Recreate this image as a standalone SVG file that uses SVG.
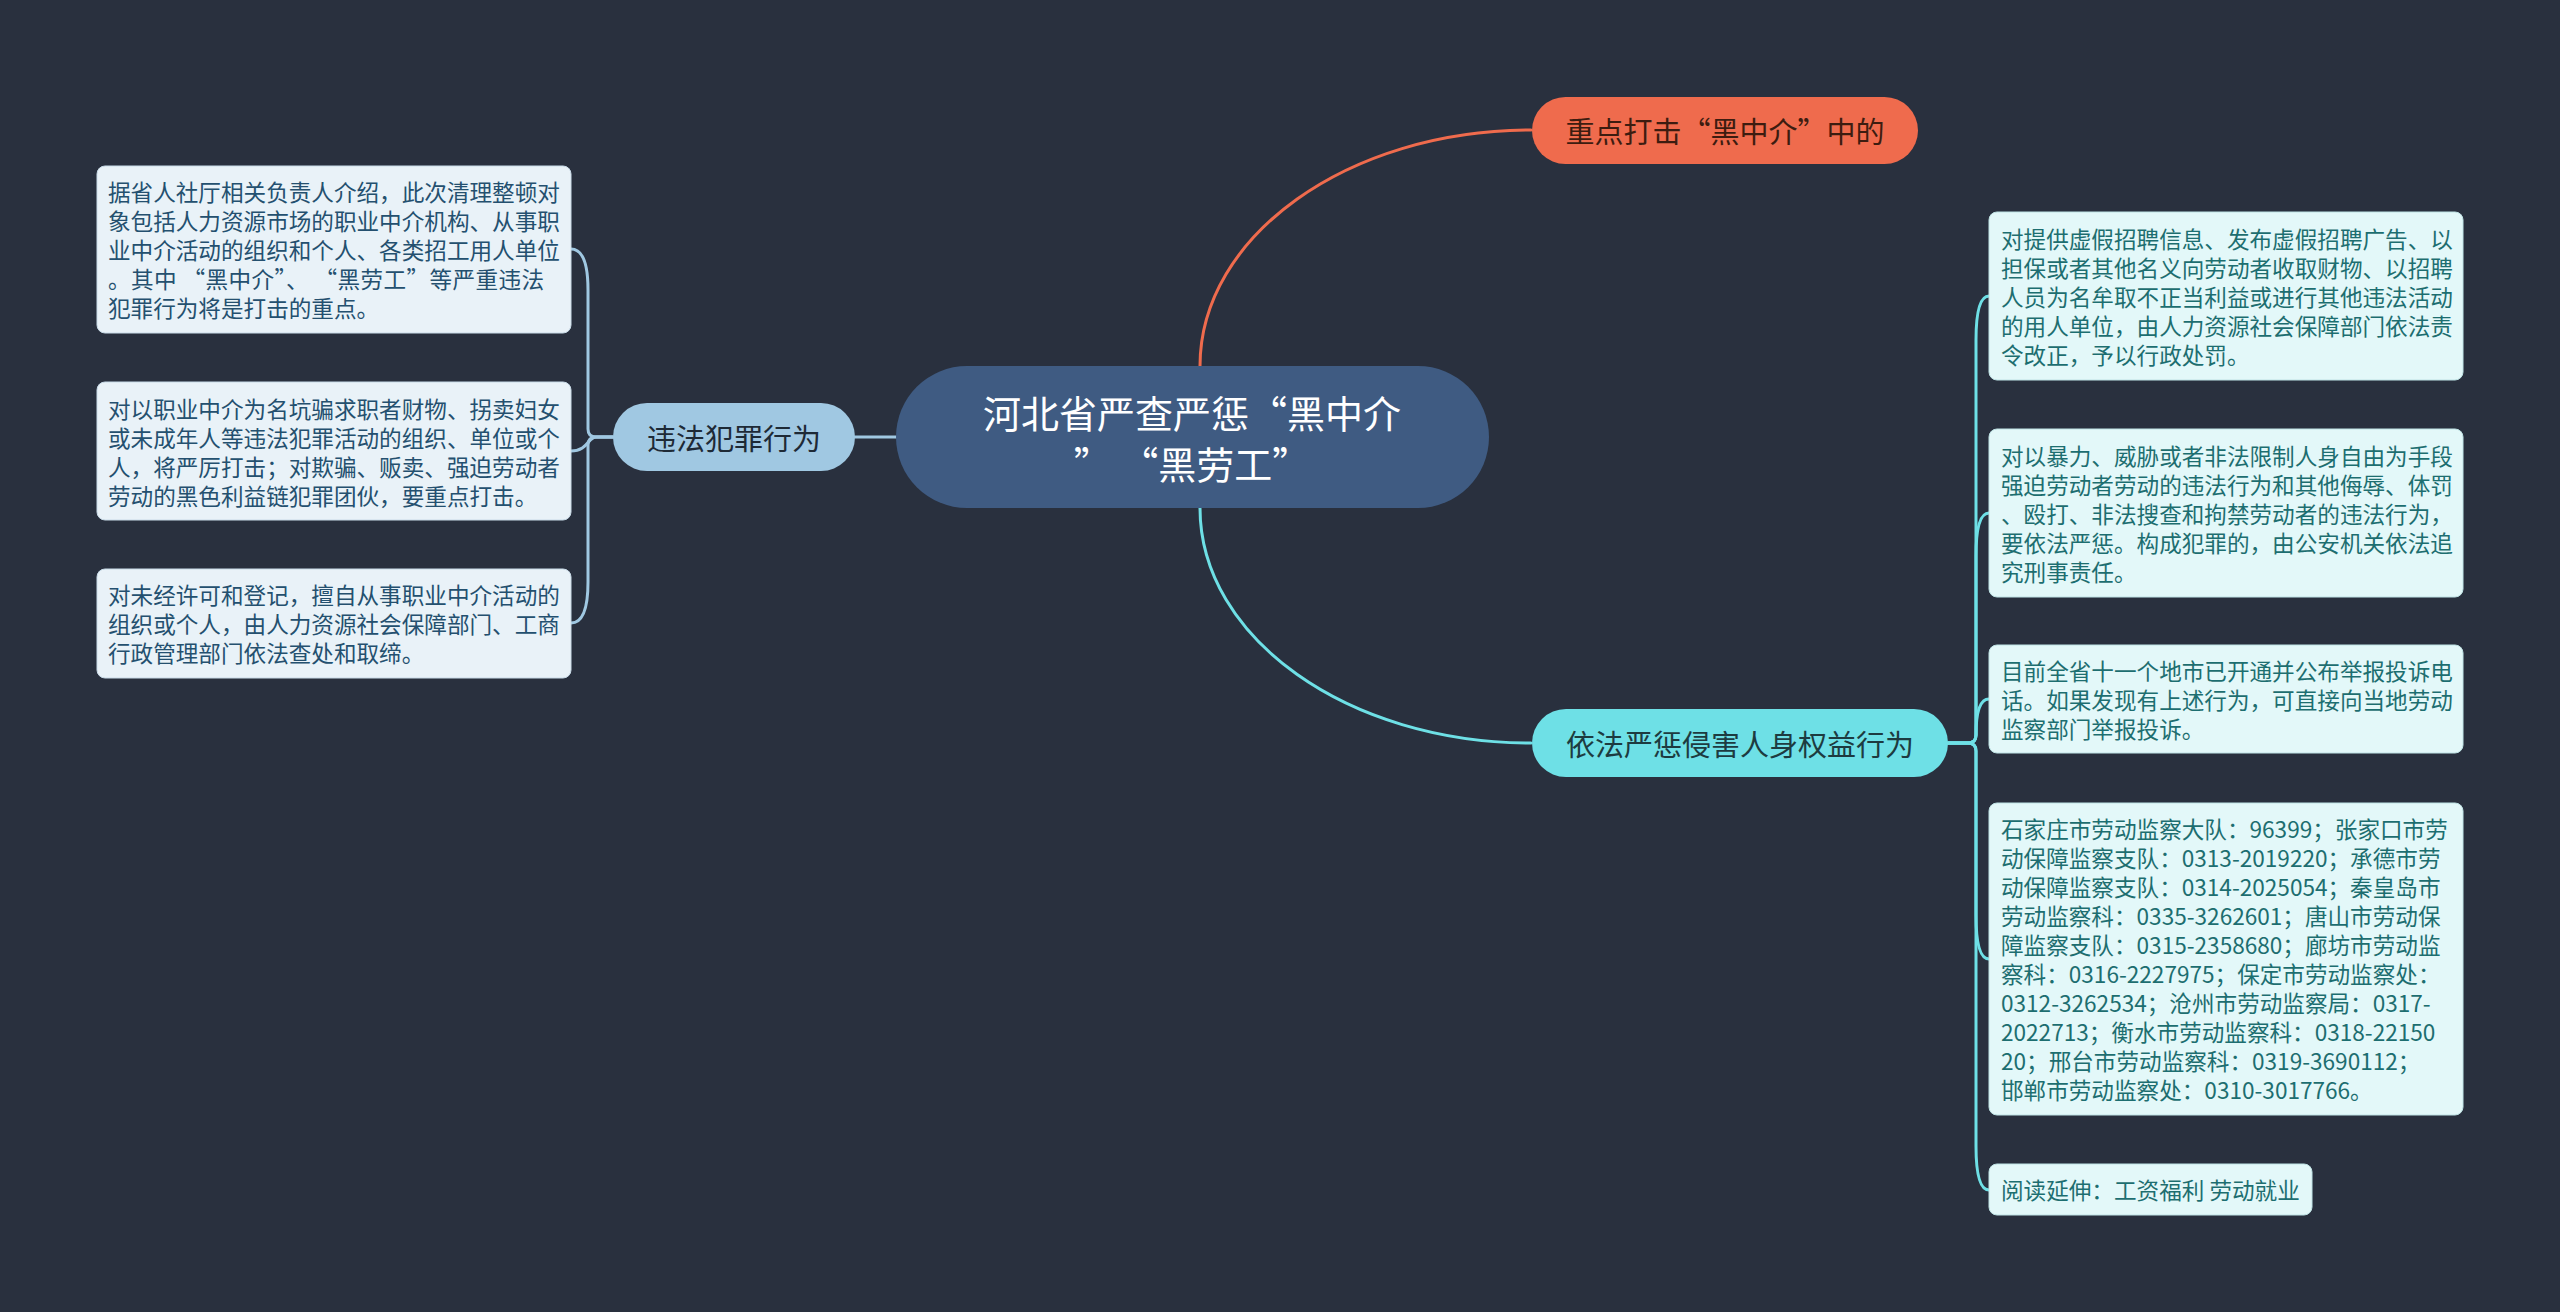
<svg xmlns="http://www.w3.org/2000/svg" width="2560" height="1312" viewBox="0 0 2560 1312">
<style>
text{font-family:"Noto Sans CJK SC","Noto Sans",sans-serif;dominant-baseline:central}
.lt{font-size:22.6px;fill:#24506f}
.rt{font-size:22.6px;fill:#1d6e70}
.lbox{fill:#e9f2f8;stroke:#c9dbe8;stroke-width:1}
.rbox{fill:#e3f8f9;stroke:#bfe3e5;stroke-width:1}
.conn{fill:none;stroke-width:3;stroke-linecap:round}
.mt{font-size:29px;text-anchor:middle}
</style>
<rect width="2560" height="1312" fill="#29303e"/>
<g id="connectors">
<path class="conn" stroke="#ef6b4d" d="M1200,366 C1200,236 1348,130 1531,130"/>
<path class="conn" stroke="#6ee0e6" d="M1200,508 C1200,638 1348,743 1531,743"/>
<path class="conn" stroke="#a0c8e2" d="M896,437 H855"/>
<path class="conn" stroke="#a0c8e2" d="M613,437 H596 Q588,437 588,429 V290 Q588,249 571,249"/>
<path class="conn" stroke="#a0c8e2" d="M613,437 H596 C588,437 588,451 571,451"/>
<path class="conn" stroke="#a0c8e2" d="M613,437 H596 Q588,437 588,445 V582 Q588,623 571,623"/>
<path class="conn" stroke="#6ee0e6" d="M1948,743 H1968 Q1976,743 1976,735 V340 Q1976,296 1989,296"/>
<path class="conn" stroke="#6ee0e6" d="M1948,743 H1968 Q1976,743 1976,735 V556 Q1976,513 1989,513"/>
<path class="conn" stroke="#6ee0e6" d="M1948,743 H1968 Q1976,743 1976,735 Q1976,699 1989,699"/>
<path class="conn" stroke="#6ee0e6" d="M1948,743 H1968 Q1976,743 1976,751 V915 Q1976,959 1989,959"/>
<path class="conn" stroke="#6ee0e6" d="M1948,743 H1968 Q1976,743 1976,751 V1146 Q1976,1190 1989,1190"/>
</g>
<g id="root">
<rect x="896" y="366" width="593" height="142" rx="71" fill="#3f5b82"/>
<text x="1192" y="411" font-size="38" text-anchor="middle" fill="#ffffff">河北省严查严惩“黑中介</text>
<text x="1192" y="462" font-size="38" text-anchor="middle" fill="#ffffff">” “黑劳工”</text>
</g>
<g id="n-key">
<rect x="1532" y="97" width="386" height="67" rx="33.5" fill="#ef6b4d"/>
<text class="mt" x="1725" y="130" fill="#3d1c10">重点打击“黑中介”中的</text>
</g>
<g id="n-protect">
<rect x="1532" y="709" width="416" height="68" rx="34" fill="#6ee0e6"/>
<text class="mt" x="1740" y="743" fill="#1d3b40">依法严惩侵害人身权益行为</text>
</g>
<g id="n-crime">
<rect x="613" y="403" width="242" height="68" rx="34" fill="#a0c8e2"/>
<text class="mt" x="734" y="437" fill="#1e2a36">违法犯罪行为</text>
</g>
<g id="l1">
<rect class="lbox" x="97" y="166" width="474" height="167" rx="8"/>
<text class="lt" x="108" y="191.5">据省人社厅相关负责人介绍，此次清理整顿对</text>
<text class="lt" x="108" y="220.5">象包括人力资源市场的职业中介机构、从事职</text>
<text class="lt" x="108" y="249.5">业中介活动的组织和个人、各类招工用人单位</text>
<text class="lt" x="108" y="278.5" textLength="436" lengthAdjust="spacing">。其中 “黑中介”、 “黑劳工”等严重违法</text>
<text class="lt" x="108" y="307.5">犯罪行为将是打击的重点。</text>
</g>
<g id="l2">
<rect class="lbox" x="97" y="382" width="474" height="138" rx="8"/>
<text class="lt" x="108" y="408">对以职业中介为名坑骗求职者财物、拐卖妇女</text>
<text class="lt" x="108" y="437">或未成年人等违法犯罪活动的组织、单位或个</text>
<text class="lt" x="108" y="466">人，将严厉打击；对欺骗、贩卖、强迫劳动者</text>
<text class="lt" x="108" y="495">劳动的黑色利益链犯罪团伙，要重点打击。</text>
</g>
<g id="l3">
<rect class="lbox" x="97" y="569" width="474" height="109" rx="8"/>
<text class="lt" x="108" y="594.5">对未经许可和登记，擅自从事职业中介活动的</text>
<text class="lt" x="108" y="623.5">组织或个人，由人力资源社会保障部门、工商</text>
<text class="lt" x="108" y="652.5">行政管理部门依法查处和取缔。</text>
</g>
<g id="r1">
<rect class="rbox" x="1989" y="212" width="474" height="168" rx="8"/>
<text class="rt" x="2001" y="238">对提供虚假招聘信息、发布虚假招聘广告、以</text>
<text class="rt" x="2001" y="267">担保或者其他名义向劳动者收取财物、以招聘</text>
<text class="rt" x="2001" y="296">人员为名牟取不正当利益或进行其他违法活动</text>
<text class="rt" x="2001" y="325">的用人单位，由人力资源社会保障部门依法责</text>
<text class="rt" x="2001" y="354">令改正，予以行政处罚。</text>
</g>
<g id="r2">
<rect class="rbox" x="1989" y="429" width="474" height="168" rx="8"/>
<text class="rt" x="2001" y="455">对以暴力、威胁或者非法限制人身自由为手段</text>
<text class="rt" x="2001" y="484">强迫劳动者劳动的违法行为和其他侮辱、体罚</text>
<text class="rt" x="2001" y="513">、殴打、非法搜查和拘禁劳动者的违法行为，</text>
<text class="rt" x="2001" y="542">要依法严惩。构成犯罪的，由公安机关依法追</text>
<text class="rt" x="2001" y="571">究刑事责任。</text>
</g>
<g id="r3">
<rect class="rbox" x="1989" y="645" width="474" height="108" rx="8"/>
<text class="rt" x="2001" y="670">目前全省十一个地市已开通并公布举报投诉电</text>
<text class="rt" x="2001" y="699">话。如果发现有上述行为，可直接向当地劳动</text>
<text class="rt" x="2001" y="728">监察部门举报投诉。</text>
</g>
<g id="r4">
<rect class="rbox" x="1989" y="803" width="474" height="312" rx="8"/>
<text class="rt" x="2001" y="828.5">石家庄市劳动监察大队：96399；张家口市劳</text>
<text class="rt" x="2001" y="857.5">动保障监察支队：0313-2019220；承德市劳</text>
<text class="rt" x="2001" y="886.5">动保障监察支队：0314-2025054；秦皇岛市</text>
<text class="rt" x="2001" y="915.5">劳动监察科：0335-3262601；唐山市劳动保</text>
<text class="rt" x="2001" y="944.5">障监察支队：0315-2358680；廊坊市劳动监</text>
<text class="rt" x="2001" y="973.5">察科：0316-2227975；保定市劳动监察处：</text>
<text class="rt" x="2001" y="1002.5">0312-3262534；沧州市劳动监察局：0317-</text>
<text class="rt" x="2001" y="1031.5">2022713；衡水市劳动监察科：0318-22150</text>
<text class="rt" x="2001" y="1060.5">20；邢台市劳动监察科：0319-3690112；</text>
<text class="rt" x="2001" y="1089.5">邯郸市劳动监察处：0310-3017766。</text>
</g>
<g id="r5">
<rect class="rbox" x="1989" y="1164" width="323" height="51" rx="8"/>
<text class="rt" x="2001" y="1189.5">阅读延伸：工资福利 劳动就业</text>
</g>
</svg>
